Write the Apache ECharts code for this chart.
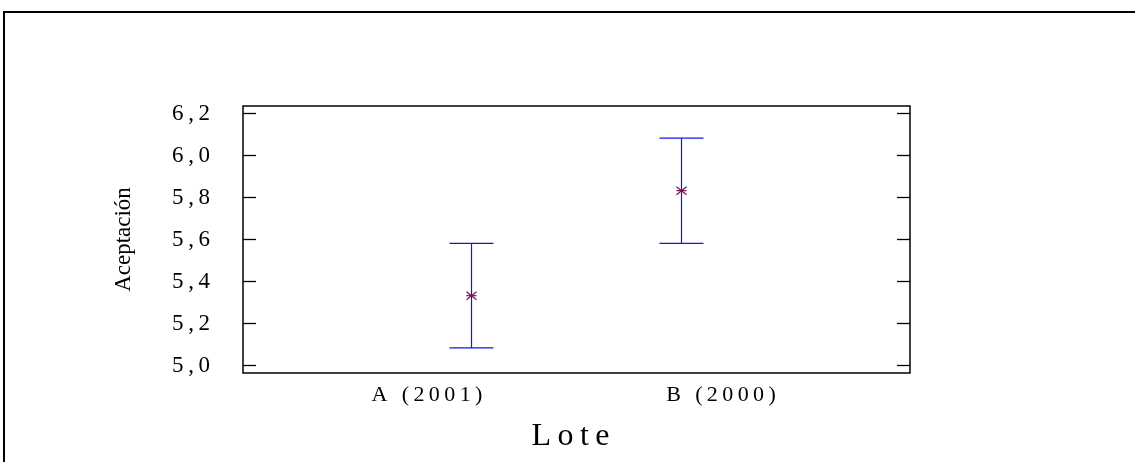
<!DOCTYPE html>
<html>
<head>
<meta charset="utf-8">
<script src="https://cdn.jsdelivr.net/npm/echarts@6/dist/echarts.min.js"></script>
<style>
  html, body { margin: 0; padding: 0; background: #fff; }
  #chart { width: 1135px; height: 462px; }
</style>
</head>
<body>
<div id="chart"></div>
<script>
// datos del grafico (medias e intervalos por lote)
var lotes = ['A (2001)', 'B (2000)'];
var lotePos = [1, 2];
var etiquetaPos = [0.79, 2.19];   // donde caen las etiquetas del eje X
var medias = [5.333, 5.833];
var inferior = [5.085, 5.582];
var superior = [5.582, 6.083];
var yTicks = [5.0, 5.2, 5.4, 5.6, 5.8, 6.0, 6.2];

var fuente = '"Liberation Serif", "Times New Roman", serif';
var azul = '#1414e6';
var magenta = '#7a0f55';

// separa las letras un poco, como en el original
function espaciado(s) {
  return s.split('').join('\u2009');
}

var datos = [];
for (var i = 0; i < lotes.length; i++) {
  datos.push([lotePos[i], inferior[i], superior[i], medias[i]]);
}

var chart = echarts.init(document.getElementById('chart'));

var option = {
  animation: false,
  backgroundColor: '#fff',
  graphic: [{
    type: 'rect',
    shape: { x: 4, y: 12, width: 1200, height: 500 },
    style: { fill: 'none', stroke: '#000', lineWidth: 2 },
    silent: true
  }],
  grid: {
    left: 243, top: 106, right: 225, bottom: 89,
    show: true, borderColor: '#000', borderWidth: 1.5
  },
  xAxis: {
    type: 'value',
    min: -0.086, max: 3.09,
    name: espaciado('Lote'),
    nameLocation: 'middle',
    nameGap: 48,
    nameTextStyle: { fontFamily: fuente, fontSize: 32, color: '#000', padding: [0, 12, 0, 0] },
    axisLine: { show: false, onZero: false },
    axisTick: { show: false },
    splitLine: { show: false },
    axisLabel: {
      customValues: etiquetaPos,
      margin: 11,
      fontFamily: fuente, fontSize: 22, color: '#000',
      formatter: function (v) {
        var k = etiquetaPos.indexOf(v);
        return k >= 0 ? espaciado(lotes[k]) : '';
      }
    }
  },
  yAxis: [{
    type: 'value',
    min: 4.965, max: 6.236,
    name: 'Aceptación',
    nameLocation: 'middle',
    nameGap: 108,
    nameTextStyle: { fontFamily: fuente, fontSize: 23, color: '#000' },
    axisLine: { show: false, onZero: false },
    splitLine: { show: false },
    axisTick: {
      customValues: yTicks, inside: true, length: 13,
      lineStyle: { color: '#000', width: 1.3 }
    },
    axisLabel: {
      customValues: yTicks, margin: 33,
      fontFamily: fuente, fontSize: 23, color: '#000',
      formatter: function (v) {
        return espaciado(v.toFixed(1).replace('.', ','));
      }
    }
  }, {
    type: 'value',
    position: 'right',
    min: 4.965, max: 6.236,
    axisLine: { show: false, onZero: false },
    splitLine: { show: false },
    axisLabel: { show: false },
    axisTick: {
      customValues: yTicks, inside: true, length: 13,
      lineStyle: { color: '#000', width: 1.3 }
    }
  }],
  series: [{
    type: 'custom',
    data: datos,
    renderItem: function (params, api) {
      var x = api.value(0);
      var lo = api.coord([x, api.value(1)]);
      var hi = api.coord([x, api.value(2)]);
      var m = api.coord([x, api.value(3)]);
      var cx = Math.round(lo[0]) + 0.5;
      var cap = 22, r = 5;
      var linea = function (x1, y1, x2, y2, color) {
        return { type: 'line', shape: { x1: x1, y1: y1, x2: x2, y2: y2 },
                 style: { stroke: color, lineWidth: 1.2 } };
      };
      return {
        type: 'group',
        children: [
          linea(cx, lo[1], cx, hi[1], azul),
          linea(cx - cap, lo[1], cx + cap, lo[1], azul),
          linea(cx - cap, hi[1], cx + cap, hi[1], azul),
          // asterisco de la media
          linea(cx - r, m[1] - r + 1, cx + r, m[1] + r - 1, magenta),
          linea(cx - r, m[1] + r - 1, cx + r, m[1] - r + 1, magenta),
          linea(cx - r, m[1], cx + r, m[1], magenta)
        ]
      };
    }
  }]
};

chart.setOption(option);
</script>
</body>
</html>
